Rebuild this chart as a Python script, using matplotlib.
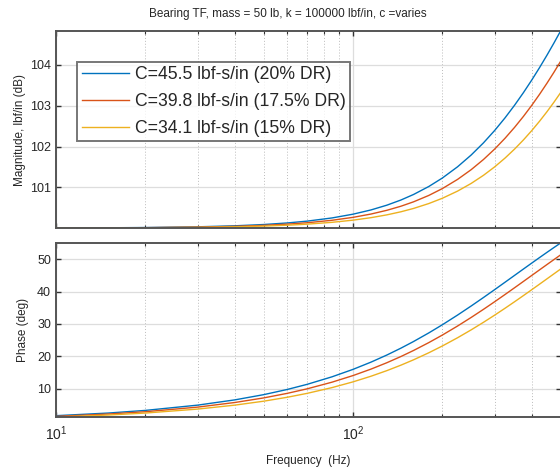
import matplotlib
matplotlib.use('Agg')
import matplotlib.pyplot as plt
from matplotlib.ticker import FixedLocator, NullFormatter, LogLocator

plt.rcParams['font.family'] = ['Liberation Sans', 'DejaVu Sans']
plt.rcParams['mathtext.default'] = 'regular'

# ---- data ----
freq = [10, 15, 20, 30, 40, 50, 60, 70, 85, 100, 115, 130, 145, 160, 180, 200,
        225, 250, 275, 300, 325, 350, 375, 400, 425, 450, 475, 500]

labels = ['C=45.5 lbf-s/in (20% DR)',
          'C=39.8 lbf-s/in (17.5% DR)',
          'C=34.1 lbf-s/in (15% DR)']

mag_c455 = [100.0035, 100.0080, 100.0142, 100.0318, 100.0564, 100.0878, 100.1259, 100.1705,
            100.2492, 100.3412, 100.4458, 100.5619, 100.6887, 100.8251, 101.0203, 101.2285,
            101.5038, 101.7922, 102.0901, 102.3945, 102.7028, 103.0130, 103.3231, 103.6319,
            103.9380, 104.2408, 104.5395, 104.8335]
mag_c398 = [100.0027, 100.0061, 100.0109, 100.0244, 100.0432, 100.0674, 100.0967, 100.1311,
            100.1919, 100.2634, 100.3451, 100.4363, 100.5365, 100.6449, 100.8013, 100.9696,
            101.1945, 101.4328, 101.6818, 101.9391, 102.2025, 102.4701, 102.7402, 103.0115,
            103.2829, 103.5533, 103.8219, 104.0881]
mag_c341 = [100.0020, 100.0045, 100.0080, 100.0179, 100.0318, 100.0496, 100.0712, 100.0966,
            100.1417, 100.1949, 100.2560, 100.3245, 100.4002, 100.4826, 100.6022, 100.7321,
            100.9075, 101.0955, 101.2942, 101.5019, 101.7169, 101.9378, 102.1631, 102.3917,
            102.6226, 102.8546, 103.0873, 103.3196]

phase_c455 = [1.638, 2.456, 3.273, 4.902, 6.524, 8.135, 9.734, 11.317, 13.659, 15.955,
              18.200, 20.388, 22.516, 24.581, 27.231, 29.760, 32.751, 35.554, 38.174,
              40.619, 42.897, 45.018, 46.993, 48.831, 50.545, 52.142, 53.633, 55.025]
phase_c398 = [1.433, 2.148, 2.863, 4.290, 5.712, 7.127, 8.533, 9.929, 12.000, 14.040,
              16.044, 18.009, 19.931, 21.807, 24.234, 26.572, 29.365, 32.013, 34.516,
              36.878, 39.102, 41.194, 43.161, 45.008, 46.744, 48.374, 49.907, 51.348]
phase_c341 = [1.227, 1.841, 2.454, 3.678, 4.898, 6.115, 7.325, 8.530, 10.322, 12.093,
              13.842, 15.564, 17.259, 18.922, 21.090, 23.196, 25.738, 28.175, 30.507,
              32.732, 34.851, 36.866, 38.781, 40.598, 42.321, 43.955, 45.503, 46.971]

mag_ticks = [101, 102, 103, 104]
phase_ticks = [10, 20, 30, 40, 50]

colors = ['#0072BD', '#D95319', '#EDB120']

# ---- figure ----
fig = plt.figure(figsize=(5.6, 4.72), dpi=100)
ax1 = fig.add_axes([0.1, 0.5169, 0.901, 0.4174])
ax2 = fig.add_axes([0.1, 0.1165, 0.901, 0.3686])

mags = [mag_c455, mag_c398, mag_c341]
phases = [phase_c455, phase_c398, phase_c341]

for m, c, l in zip(mags, colors, labels):
    ax1.plot(freq, m, color=c, lw=1.0, label=l)
for p, c in zip(phases, colors):
    ax2.plot(freq, p, color=c, lw=1.0)

spine_col = '#555555'
for ax in (ax1, ax2):
    ax.set_xscale('log')
    ax.set_xlim(freq[0], freq[-1])
    ax.xaxis.set_major_locator(LogLocator(base=10, numticks=5))
    ax.xaxis.set_minor_locator(LogLocator(base=10, subs=range(2, 10), numticks=20))
    ax.grid(True, which='major', color='#dddddd', lw=0.9, ls='-')
    ax.grid(True, which='minor', axis='x', color='#bbbbbb', lw=0.7, ls=(0, (1, 2)))
    ax.set_axisbelow(True)
    ax.tick_params(which='both', direction='in', top=True, right=True,
                   colors='#333333', labelsize=9, labelcolor='#262626')
    ax.tick_params(which='major', length=3.5, width=1.0)
    ax.tick_params(which='minor', length=2, width=0.8)
    for s in ax.spines.values():
        s.set_color(spine_col)
        s.set_linewidth(1.4)

ax1.set_ylim(min(min(m) for m in mags), max(max(m) for m in mags))
ax1.yaxis.set_major_locator(FixedLocator(mag_ticks))
ax1.xaxis.set_major_formatter(NullFormatter())
ax1.xaxis.set_minor_formatter(NullFormatter())
ax1.set_ylabel('Magnitude, lbf/in (dB)', fontsize=8.5, color='#262626', labelpad=3)

ax2.set_ylim(min(min(p) for p in phases), max(max(p) for p in phases))
ax2.yaxis.set_major_locator(FixedLocator(phase_ticks))
ax2.xaxis.set_minor_formatter(NullFormatter())
ax2.tick_params(axis='x', which='major', pad=5, labelsize=10)
ax2.set_ylabel('Phase (deg)', fontsize=8.5, color='#262626', labelpad=6)
ax2.set_xlabel('Frequency  (Hz)', fontsize=8.5, color='#262626', labelpad=9)

leg = ax1.legend(loc='upper left', bbox_to_anchor=(0.042, 0.843), fontsize=12.7,
                 frameon=True, fancybox=False, edgecolor='#555555',
                 handlelength=2.7, handletextpad=0.3, borderpad=0.25,
                 labelspacing=0.55, borderaxespad=0)
leg.get_frame().set_linewidth(1.4)
for t in leg.get_texts():
    t.set_color('#262626')

fig.text(288 / 560, 1 - 14 / 472, 'Bearing TF, mass = 50 lb, k = 100000 lbf/in, c =varies',
         ha='center', va='center', fontsize=8.5, color='#262626')

fig.savefig('out.png', dpi=100)
